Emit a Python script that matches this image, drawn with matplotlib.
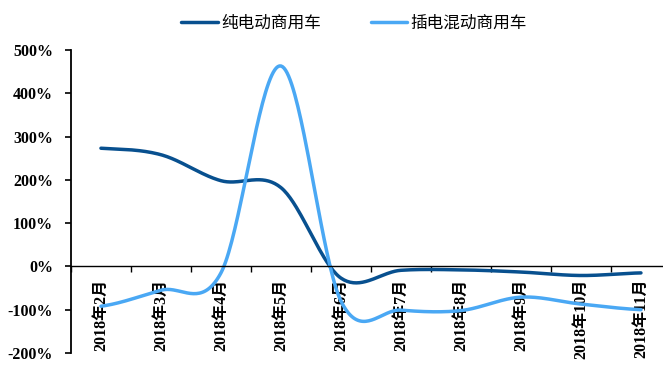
import numpy as np
import matplotlib
matplotlib.use('Agg')
import matplotlib.pyplot as plt
from matplotlib.ticker import FuncFormatter

months = ['2018年2月', '2018年3月', '2018年4月', '2018年5月', '2018年6月',
          '2018年7月', '2018年8月', '2018年9月', '2018年10月', '2018年11月']
bev = [273, 258, 198, 182, -27, -9, -8, -13, -21, -15]        # 纯电动商用车 (%)
phev = [-92, -55, -15, 463, -80, -101, -102, -71, -87, -100]  # 插电混动商用车 (%)

dark = '#08508f'
light = '#4aa8f4'


def smooth(y, n=40):
    # cardinal (Catmull-Rom) curve through the points, like a smoothed line in Excel
    y = np.asarray(y, float)
    m = np.empty_like(y)
    m[1:-1] = (y[2:] - y[:-2]) / 2
    m[0] = (y[1] - y[0]) / 2
    m[-1] = (y[-1] - y[-2]) / 2
    t = np.linspace(0, 1, n)
    h00 = 2 * t**3 - 3 * t**2 + 1
    h10 = t**3 - 2 * t**2 + t
    h01 = -2 * t**3 + 3 * t**2
    h11 = t**3 - t**2
    xs, ys = [], []
    for i in range(len(y) - 1):
        xs.append(i + t)
        ys.append(h00 * y[i] + h10 * m[i] + h01 * y[i + 1] + h11 * m[i + 1])
    return np.concatenate(xs), np.concatenate(ys)


fig = plt.figure(figsize=(6.63, 3.69), dpi=100)
ax = fig.add_axes([0.107, 0.0434, 0.905, 0.8212])

x1, y1 = smooth(bev)
x2, y2 = smooth(phev)
ax.plot(x1, y1, color=dark, lw=2.5, solid_capstyle='round', label='纯电动商用车')
ax.plot(x2, y2, color=light, lw=2.5, solid_capstyle='round', label='插电混动商用车')

ax.set_xlim(-0.5, 9.5)
ax.set_ylim(-200, 500)
ax.set_yticks(np.arange(-200, 501, 100))
ax.yaxis.set_major_formatter(FuncFormatter(lambda v, p: f'{v:.0f}%'))

for s in ['top', 'right']:
    ax.spines[s].set_visible(False)
ax.spines['bottom'].set_position(('data', 0))
ax.spines['left'].set_linewidth(1.3)
ax.spines['bottom'].set_linewidth(1.0)

ax.set_xticks(range(len(months)))
ax.set_xticklabels(months, rotation=90, va='top', ha='center',
                   family=['Liberation Serif', 'Noto Sans CJK SC'],
                   fontweight='bold', fontsize=11.5)
ax.set_xticks(np.arange(-0.5, len(months), 1), minor=True)
ax.tick_params(axis='x', which='major', length=0, pad=9)
ax.tick_params(axis='x', which='minor', length=4, width=1, direction='out')
ax.tick_params(axis='y', length=4, width=1.2, pad=9)
for lab in ax.get_yticklabels():
    lab.set_family('Liberation Serif')
    lab.set_fontweight('bold')
    lab.set_fontsize(11.5)

fig.legend(loc='upper center', bbox_to_anchor=(0.534, 1.0), ncol=2, frameon=False,
           prop={'family': 'Noto Sans CJK SC', 'size': 12},
           handlelength=2.2, columnspacing=3.0, handletextpad=0.2)

fig.savefig('out.png', dpi=100)
